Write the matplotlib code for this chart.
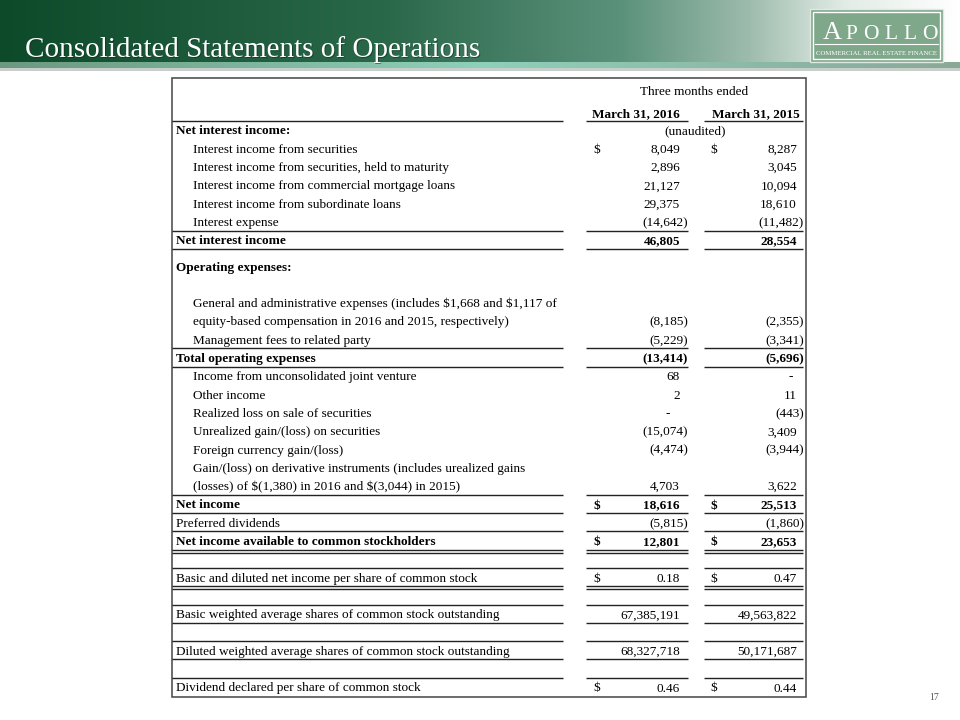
import numpy as np
import matplotlib.pyplot as plt
from matplotlib.patches import Rectangle

# table content
labels = [
    "Net interest income:",
    "Interest income from securities",
    "Interest income from securities, held to maturity",
    "Interest income from commercial mortgage loans",
    "Interest income from subordinate loans",
    "Interest expense",
    "Net interest income",
    "Operating expenses:",
    "",
    "General and administrative expenses (includes $1,668 and $1,117 of",
    "equity-based compensation in 2016 and 2015, respectively)",
    "Management fees to related party",
    "Total operating expenses",
    "Income from unconsolidated joint venture",
    "Other income",
    "Realized loss on sale of securities",
    "Unrealized gain/(loss) on securities",
    "Foreign currency gain/(loss)",
    "Gain/(loss) on derivative instruments (includes urealized gains",
    "(losses) of $(1,380) in 2016 and $(3,044) in 2015)",
    "Net income",
    "Preferred dividends",
    "Net income available to common stockholders",
    "",
    "Basic and diluted net income per share of common stock",
    "",
    "Basic weighted average shares of common stock outstanding",
    "",
    "Diluted weighted average shares of common stock outstanding",
    "",
    "Dividend declared per share of common stock",
]
v2016 = [None, 8049, 2896, 21127, 29375, -14642, 46805, None, None, None,
         -8185, -5229, -13414, 68, 2, 0, -15074, -4474, None, 4703,
         18616, -5815, 12801, None, 0.18, None, 67385191, None, 68327718,
         None, 0.46]
v2015 = [None, 8287, 3045, 10094, 18610, -11482, 28554, None, None, None,
         -2355, -3341, -5696, 0, 11, -443, 3409, -3944, None, 3622,
         25513, -1860, 23653, None, 0.47, None, 49563822, None, 50171687,
         None, 0.44]
dollar_rows = [1, 20, 22, 24, 30]
bold_rows = [0, 6, 7, 12, 20, 22]
indent_rows = [1, 2, 3, 4, 5, 9, 10, 11, 13, 14, 15, 16, 17, 18, 19]
single_rules = [5, 6, 11, 12, 19, 20, 21, 23, 25, 26, 27, 28, 29]
double_rules = [22, 24]

period = "Three months ended"
col_heads = ["March 31, 2016", "March 31, 2015"]
title = "Consolidated Statements of Operations"

FONT = "Liberation Serif"
FS = 9.5

fig = plt.figure(figsize=(9.6, 7.2), dpi=100)
ax = fig.add_axes([0, 0, 1, 1])
ax.set_xlim(0, 960)
ax.set_ylim(720, 0)
ax.axis("off")

# header band gradient
xs = np.linspace(0, 1, 960)
stops = [0.0, 0.4, 0.65, 0.78, 0.88, 1.0]
cols = np.array([[0x0d, 0x4a, 0x2a], [0x2a, 0x68, 0x4a], [0x5c, 0x92, 0x7c],
                 [0x9d, 0xbb, 0xad], [0xe2, 0xec, 0xe6], [0xff, 0xff, 0xff]]) / 255
grad = np.stack([np.interp(xs, stops, cols[:, k]) for k in range(3)], axis=-1)
ax.imshow(grad[None, :, :], extent=[0, 960, 62, 0], aspect="auto", zorder=0)
stops2 = [0.0, 0.5, 1.0]
cols2 = np.array([[0x6c, 0x98, 0x80], [0x8e, 0xd0, 0xba], [0x8a, 0xa8, 0x98]]) / 255
grad2 = np.stack([np.interp(xs, stops2, cols2[:, k]) for k in range(3)], axis=-1)
ax.imshow(grad2[None, :, :], extent=[0, 960, 68, 62], aspect="auto", zorder=0)
ax.add_patch(Rectangle((0, 68), 960, 3, color="#c8cfcb", lw=0, zorder=0))

ax.text(26, 58, title, color="#0a2a18", alpha=0.5, fontsize=21, family=FONT, va="baseline")
ax.text(25, 57, title, color="white", fontsize=21, family=FONT, va="baseline")

# logo
ax.add_patch(Rectangle((810, 9), 133, 53, facecolor="#7fa88b", edgecolor="#dfe9e2", lw=1, zorder=2))
ax.add_patch(Rectangle((813, 12), 127, 47, facecolor="none", edgecolor="white", lw=1, zorder=3))
for i, ch in enumerate("APOLLO"):
    ax.text(832 + i * 19.6, 39, ch, color="white", fontsize=19 if i == 0 else 15.5,
            family=FONT, ha="center", va="baseline", zorder=4)
ax.plot([815, 938], [44, 44], color="white", lw=0.8, zorder=4)
ax.text(876.5, 55, "COMMERCIAL REAL ESTATE FINANCE", color="white", fontsize=4.9,
        family=FONT, ha="center", va="baseline", zorder=4)

# table box
L, R, T, B = 172, 806, 78, 697
ax.add_patch(Rectangle((L, T), R - L, B - T, facecolor="none", edgecolor="#444444", lw=1.1))

spans = [(L, 563), (586, 688), (704, 803)]
dollar_x = [597, 714]
pos_right = [680, 797]
neg_right = [688, 804]
dash_x = [668, 791]


def rule(y, double=False):
    for a, b in spans:
        ax.plot([a, b], [y, y], color="#222222", lw=1.0, solid_capstyle="butt")
        if double:
            ax.plot([a, b], [y + 3, y + 3], color="#222222", lw=1.0, solid_capstyle="butt")


def put(x, y, s, **kw):
    ax.text(x, y, s, fontsize=FS, family=FONT, va="baseline", parse_math=False, **kw)


put(694, 95, period, ha="center")
put(636, 117, col_heads[0], ha="center", weight="bold")
put(756, 117, col_heads[1], ha="center", weight="bold")
rule(121)


def row_y(i):
    y = 130 + i * 18.3
    if i >= 7:
        y += 8
    return y


def fmt(v):
    if v == 0:
        return "-"
    if isinstance(v, float):
        return f"{v:.2f}"
    if v < 0:
        return f"({-v:,})"
    return f"{v:,}"


for i, lab in enumerate(labels):
    y = row_y(i)
    w = "bold" if i in bold_rows else "normal"
    x = 193 if i in indent_rows else 176
    put(x, y + 4.5, lab, weight=w)
    if i == 0:
        put(695, y + 4.5, "(unaudited)", ha="center")
    for c, vals in enumerate([v2016, v2015]):
        v = vals[i]
        if v is None:
            continue
        if i in dollar_rows:
            put(dollar_x[c], y + 4.5, "$", ha="center", weight=w)
        s = fmt(v)
        if s == "-":
            put(dash_x[c], y + 4.5, s, ha="center")
        else:
            xr = neg_right[c] if v < 0 else pos_right[c]
            put(xr, y + 4.5, s, ha="right", weight=w)
    if i in single_rules:
        rule(y + 9)
    if i in double_rules:
        rule(y + 9, double=True)

ax.text(934, 700, "17", fontsize=7, family=FONT, color="#555555", ha="center", va="baseline")

fig.savefig("out.png", dpi=100)
